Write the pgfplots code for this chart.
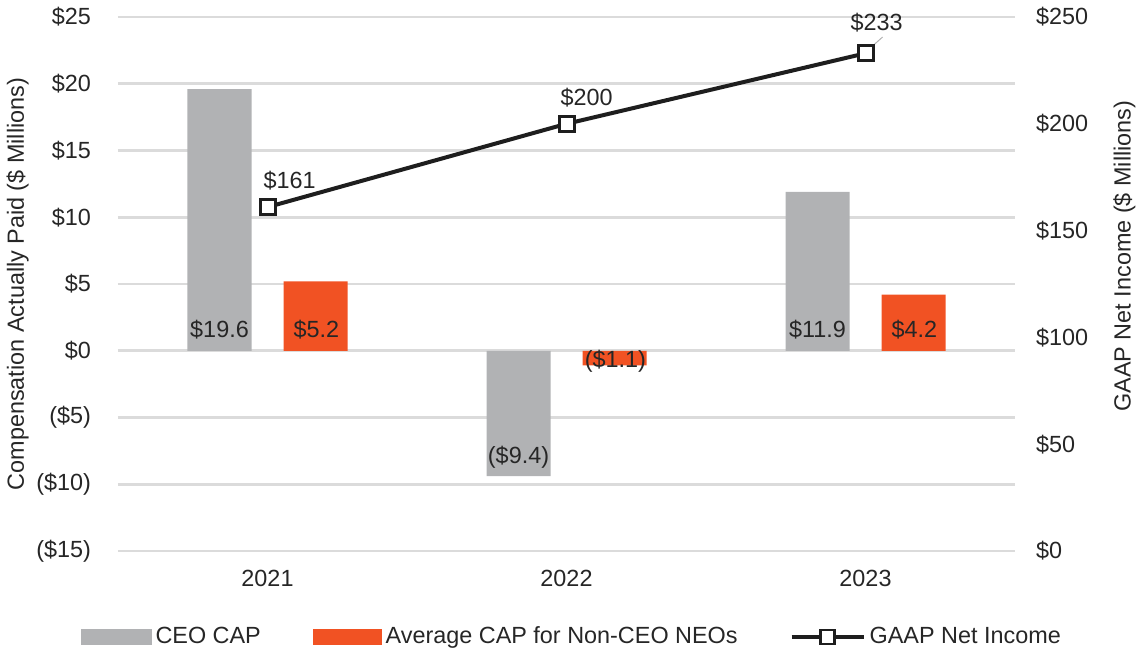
\documentclass[border=0pt]{standalone}
\usepackage{pgfplots}
\pgfplotsset{compat=1.18}
\usepackage{fontspec}
\setmainfont{Liberation Sans}
\definecolor{cgray}{RGB}{177,178,180}
\definecolor{corange}{RGB}{241,82,35}
\definecolor{cgrid}{RGB}{219,219,219}
\definecolor{ctext}{RGB}{38,38,38}
\definecolor{cline}{RGB}{30,30,30}
\newcommand{\fs}{\fontsize{11.7}{14}\selectfont}

\begin{document}
\begin{tikzpicture}[font=\fs]
\useasboundingbox (-59pt,-52pt) rectangle (511pt,275.5pt);
\begin{axis}[
  at={(0,0)}, anchor=south west,
  scale only axis, width=448.5pt, height=267pt,
  xmin=-0.5, xmax=2.5, ymin=-15, ymax=25,
  xtick={0,1,2}, xticklabels={2021,2022,2023},
  ytick={-15,-10,...,25},
  yticklabels={(\$15),(\$10),(\$5),\$0,\$5,\$10,\$15,\$20,\$25},
  axis line style={draw=none},
  tick style={draw=none}, major tick length=0pt,
  ymajorgrids, grid style={cgrid, line width=1.3pt},
  yticklabel shift=10pt, xticklabel shift=6pt,
  tick label style={font=\fs, text=ctext},
  ylabel={Compensation Actually Paid (\$ Millions)},
  every axis y label/.style={at={(axis description cs:-0.112,0.5)}, rotate=90, anchor=center, font=\fs, text=ctext},
  clip=false,
]
\addplot[ybar, bar width=32pt, bar shift=-24pt, fill=cgray, draw=none] coordinates {(0,19.6) (1,-9.4) (2,11.9)};
\addplot[ybar, bar width=32pt, bar shift=24pt, fill=corange, draw=none] coordinates {(0,5.2) (1,-1.1) (2,4.2)};
\node[anchor=base, text=ctext] at (axis cs:-0.1605,1.03) {\$19.6};
\node[anchor=base, text=ctext] at (axis cs:0.1638,1.03) {\$5.2};
\node[anchor=base, text=ctext] at (axis cs:0.8395,-8.41) {(\$9.4)};
\node[anchor=base, text=ctext] at (axis cs:1.1638,-1.29) {(\$1.1)};
\node[anchor=base, text=ctext] at (axis cs:1.8395,1.03) {\$11.9};
\node[anchor=base, text=ctext] at (axis cs:2.1638,1.03) {\$4.2};
\end{axis}
\begin{axis}[
  at={(0,0)}, anchor=south west,
  scale only axis, width=448.5pt, height=267pt,
  xmin=-0.5, xmax=2.5, ymin=0, ymax=250,
  axis y line*=right, hide x axis,
  axis line style={draw=none},
  tick style={draw=none}, major tick length=0pt,
  ytick={0,50,...,250}, yticklabels={\$0,\$50,\$100,\$150,\$200,\$250},
  yticklabel shift=7pt,
  tick label style={font=\fs, text=ctext},
  ylabel={GAAP Net Income (\$ Millions)},
  every axis y label/.style={at={(axis description cs:1.122,0.552)}, rotate=90, anchor=center, font=\fs, text=ctext},
  legend columns=3,
  legend style={draw=none, fill=none, at={(axis description cs:0.507,-0.161)}, anchor=center,
    font=\fs, text=ctext,
    /tikz/every even column/.append style={column sep=24pt},
    cells={anchor=west}},
  clip=false,
]
\addlegendimage{legend image code/.code={\fill[cgray] (0pt,-3.75pt) rectangle (35pt,3.75pt);}}
\addlegendentry{CEO CAP}
\addlegendimage{legend image code/.code={\fill[corange] (0pt,-3.75pt) rectangle (34pt,3.75pt);}}
\addlegendentry{Average CAP for Non-CEO NEOs}
\addplot[line width=2pt, cline, mark=square*, mark size=3.75pt, mark options={fill=white, line width=1.5pt},
  legend image code/.code={\draw[line width=2pt, cline] (0pt,0pt) -- (36pt,0pt); \draw[line width=1.3pt, cline, fill=white] (14.5pt,-3.5pt) rectangle (21.5pt,3.5pt);}]
  coordinates {(0,161) (1,200) (2,233)};
\addlegendentry{GAAP Net Income}
\node[anchor=base, text=ctext] at (axis cs:0.074,169.9) {\$161};
\node[anchor=base, text=ctext] at (axis cs:1.067,208.6) {\$200};
\node[anchor=base, text=ctext] at (axis cs:2.037,243.9) {\$233};
\draw[gray!60, line width=0.5pt] (axis cs:2.057,240.6) -- (axis cs:2.0,233.5);
\end{axis}
\end{tikzpicture}
\end{document}
